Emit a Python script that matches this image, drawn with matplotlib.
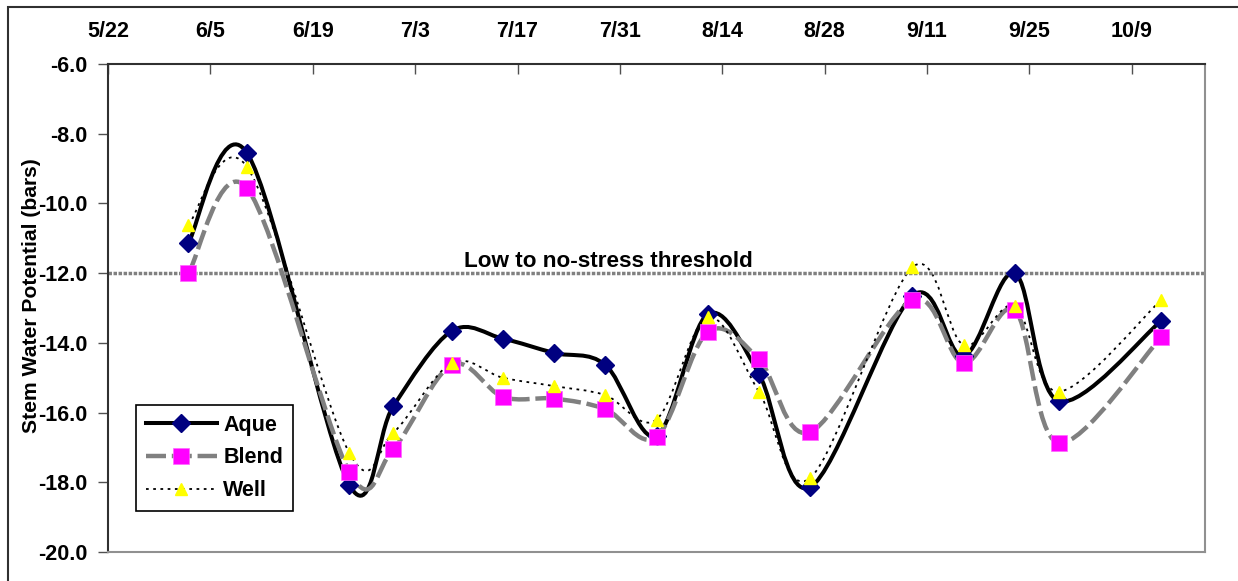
import numpy as np
import pandas as pd
import matplotlib
matplotlib.use('Agg')
import matplotlib.pyplot as plt
import matplotlib.dates as mdates
from matplotlib.path import Path
from matplotlib.patches import PathPatch, Rectangle
from matplotlib.lines import Line2D

plt.rcParams['font.family'] = ['Liberation Sans', 'DejaVu Sans']
plt.rcParams['font.weight'] = 'bold'

# sampling dates and stem water potential (bars)
sample_dates = ['6/2', '6/10', '6/24', '6/30', '7/8', '7/15', '7/22', '7/29', '8/5',
                '8/12', '8/19', '8/26', '9/9', '9/16', '9/23', '9/29', '10/13']
aque = [-11.13, -8.55, -18.08, -15.82, -13.66, -13.88, -14.29, -14.63, -16.67,
        -13.18, -14.89, -18.14, -12.65, -14.38, -12.0, -15.67, -13.37]
blend = [-12.0, -9.56, -17.7, -17.05, -14.63, -15.55, -15.6, -15.9, -16.7,
         -13.69, -14.47, -16.56, -12.77, -14.58, -13.06, -16.87, -13.84]
well = [-10.62, -8.95, -17.16, -16.58, -14.58, -15.0, -15.24, -15.5, -16.2,
        -13.26, -15.4, -17.88, -11.83, -14.06, -12.94, -15.4, -12.77]

tick_labels = ['5/22', '6/5', '6/19', '7/3', '7/17', '7/31', '8/14', '8/28', '9/11', '9/25', '10/9']
y_ticks = [-20, -18, -16, -14, -12, -10, -8, -6]
threshold = -12.0
threshold_label = 'Low to no-stress threshold'

year = '2008'
x = mdates.date2num(pd.to_datetime([year + '/' + d for d in sample_dates]))
xt = mdates.date2num(pd.to_datetime([year + '/' + d for d in tick_labels]))
x_end = mdates.date2num(pd.Timestamp(year + '-10-19'))


def smooth_path(xs, ys):
    # excel style smoothed line: cubic bezier through every point
    p = np.column_stack([xs, ys])
    pe = np.vstack([p[0], p, p[-1]])
    verts = [p[0]]
    codes = [Path.MOVETO]
    for i in range(len(p) - 1):
        p0, p1, p2, p3 = pe[i], pe[i + 1], pe[i + 2], pe[i + 3]
        verts += [p1 + (p2 - p0) / 6, p2 - (p3 - p1) / 6, p2]
        codes += [Path.CURVE4] * 3
    return Path(verts, codes)


fig = plt.figure(figsize=(12.38, 5.81), dpi=100)
ax = fig.add_axes([108 / 1238, 1 - 552 / 581, 1097 / 1238, 488 / 581])

# outer chart frame
fig.patches.append(Rectangle((8 / 1238, -0.1), 1.2, 1.1 - 7 / 581, transform=fig.transFigure,
                             fill=False, ec='#303030', lw=1.5, clip_on=False))

styles = [
    (aque, 'Aque', dict(color='black', lw=2.9, linestyle='-'),
     dict(marker='D', ms=9.5, mfc='#000080', mec='#000080')),
    (blend, 'Blend', dict(color='#808080', lw=3.2, linestyle=(0, (4.5, 1.3))),
     dict(marker='s', ms=11.5, mfc='#FF00FF', mec='#FF66FF', mew=0.5)),
    (well, 'Well', dict(color='black', lw=1.3, linestyle=(0, (1.5, 2.5))),
     dict(marker='^', ms=8, mfc='#FFFF00', mec='#FFFF00')),
]

handles = []
for vals, name, lstyle, mstyle in styles:
    ax.add_patch(PathPatch(smooth_path(x, vals), fill=False, ec=lstyle['color'],
                           lw=lstyle['lw'], linestyle=lstyle['linestyle']))
    ax.plot(x, vals, linestyle='none', **mstyle)
    handles.append(Line2D([], [], color=lstyle['color'], lw=lstyle['lw'],
                          linestyle=lstyle['linestyle'], label=name, **mstyle))

ax.axhline(threshold, color='#808080', lw=2.5, linestyle=(0, (1, 0.45)), zorder=1)
ax.annotate(threshold_label, xy=(0.456, threshold), xycoords=ax.get_yaxis_transform(),
            xytext=(0, 4.5), textcoords='offset points', ha='center', va='baseline',
            fontsize=16.2, fontweight='bold')

ax.set_xlim(xt[0], x_end)
ax.set_ylim(-20, -6)
ax.xaxis.tick_top()
ax.set_xticks(xt)
ax.set_xticklabels(tick_labels)
ax.set_yticks(y_ticks)
ax.set_yticklabels(['%.1f' % v for v in y_ticks])
ax.tick_params(axis='x', direction='in', length=7, width=1, color='#505050',
               pad=15.5, labelsize=15.5)
ax.tick_params(axis='y', direction='out', length=7, width=1, color='#505050',
               pad=8, labelsize=15.5)
ax.set_ylabel('Stem Water Potential (bars)', fontsize=15.2, fontweight='bold')
ax.yaxis.set_label_coords(-0.061, 0.525)

for s in ['left', 'top']:
    ax.spines[s].set_color('#303030')
    ax.spines[s].set_linewidth(1.5)
for s in ['right', 'bottom']:
    ax.spines[s].set_color('#909090')
    ax.spines[s].set_linewidth(1.5)

leg = ax.legend(handles=handles, loc='lower left', bbox_to_anchor=(0.0255, 0.084),
                borderaxespad=0, fancybox=False, fontsize=15.5, handlelength=3.3,
                handletextpad=0.3, labelspacing=0.55, borderpad=0.45, framealpha=1)
leg.get_frame().set_edgecolor('black')
leg.get_frame().set_linewidth(1.2)

fig.savefig('out.png', dpi=100)
